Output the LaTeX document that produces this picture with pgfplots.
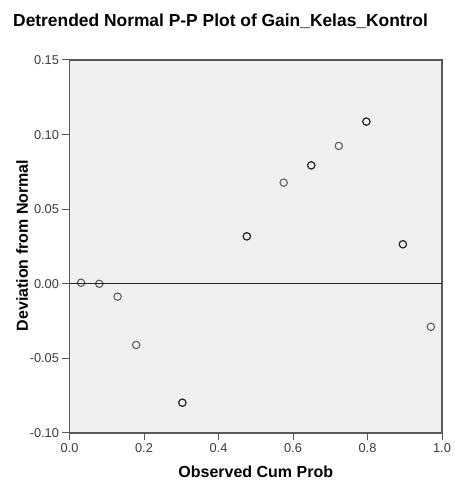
\documentclass[border=0pt]{standalone}
\usepackage{pgfplots}
\pgfplotsset{compat=1.18}
\usepackage{fontspec}
\setmainfont{Liberation Sans}
\definecolor{plotbg}{HTML}{F0F0F0}
\definecolor{frame}{HTML}{595959}
\definecolor{ticktext}{HTML}{3A3A3A}
\begin{document}
\begin{tikzpicture}
\begin{axis}[
    scale only axis,
    width=372.5pt, height=373pt,
    at={(0,0)}, anchor=south west,
    xmin=0, xmax=1, ymin=-0.10, ymax=0.15,
    xtick={0,0.2,...,1.0},
    ytick={-0.10,-0.05,0,0.05,0.10,0.15},
    axis background/.style={fill=plotbg},
    axis line style={draw=frame, line width=1.4pt},
    tick style={draw=frame, line width=1pt},
    tick align=outside, tick pos=left,
    major tick length=7pt,
    xticklabel style={/pgf/number format/.cd, fixed, fixed zerofill, precision=1},
    yticklabel style={/pgf/number format/.cd, fixed, fixed zerofill, precision=2},
    /pgf/number format/assume math mode=true,
    ticklabel style={font=\fontsize{12.8}{14}\selectfont, text=ticktext},
    clip=false,
]
\addplot[draw=black!85, line width=1.4pt, forget plot] coordinates {(0,0) (1,0)};
\addplot[only marks, mark=o, mark size=3.7pt,
    mark options={draw=black, draw opacity=0.6, line width=1.1pt}]
coordinates {
    (0.031, 0.0007)
    (0.080, 0.0000)
    (0.129,-0.0086)
    (0.179,-0.0410)
    (0.303,-0.0797) (0.303,-0.0797)
    (0.476, 0.0318) (0.476, 0.0318)
    (0.575, 0.0678)
    (0.649, 0.0794) (0.649, 0.0794)
    (0.723, 0.0924)
    (0.797, 0.1087) (0.797, 0.1087)
    (0.895, 0.0265) (0.895, 0.0265)
    (0.970,-0.0288)
};
\end{axis}
\node[anchor=base west, font=\bfseries\fontsize{17.4}{20}\selectfont, inner sep=0pt]
    at (-56.5pt, 406pt) {Detrended Normal P-P Plot of Gain\_Kelas\_Kontrol};
\node[anchor=base, font=\bfseries\fontsize{16}{18}\selectfont, inner sep=0pt]
    at (186.25pt, -45pt) {Observed Cum Prob};
\node[anchor=base, rotate=90, font=\bfseries\fontsize{16}{18}\selectfont, inner sep=0pt]
    at (-41.5pt, 187.5pt) {Deviation from Normal};
\path[use as bounding box] (-69.5pt,-51pt) rectangle (381.5pt,433pt);
\end{tikzpicture}
\end{document}
